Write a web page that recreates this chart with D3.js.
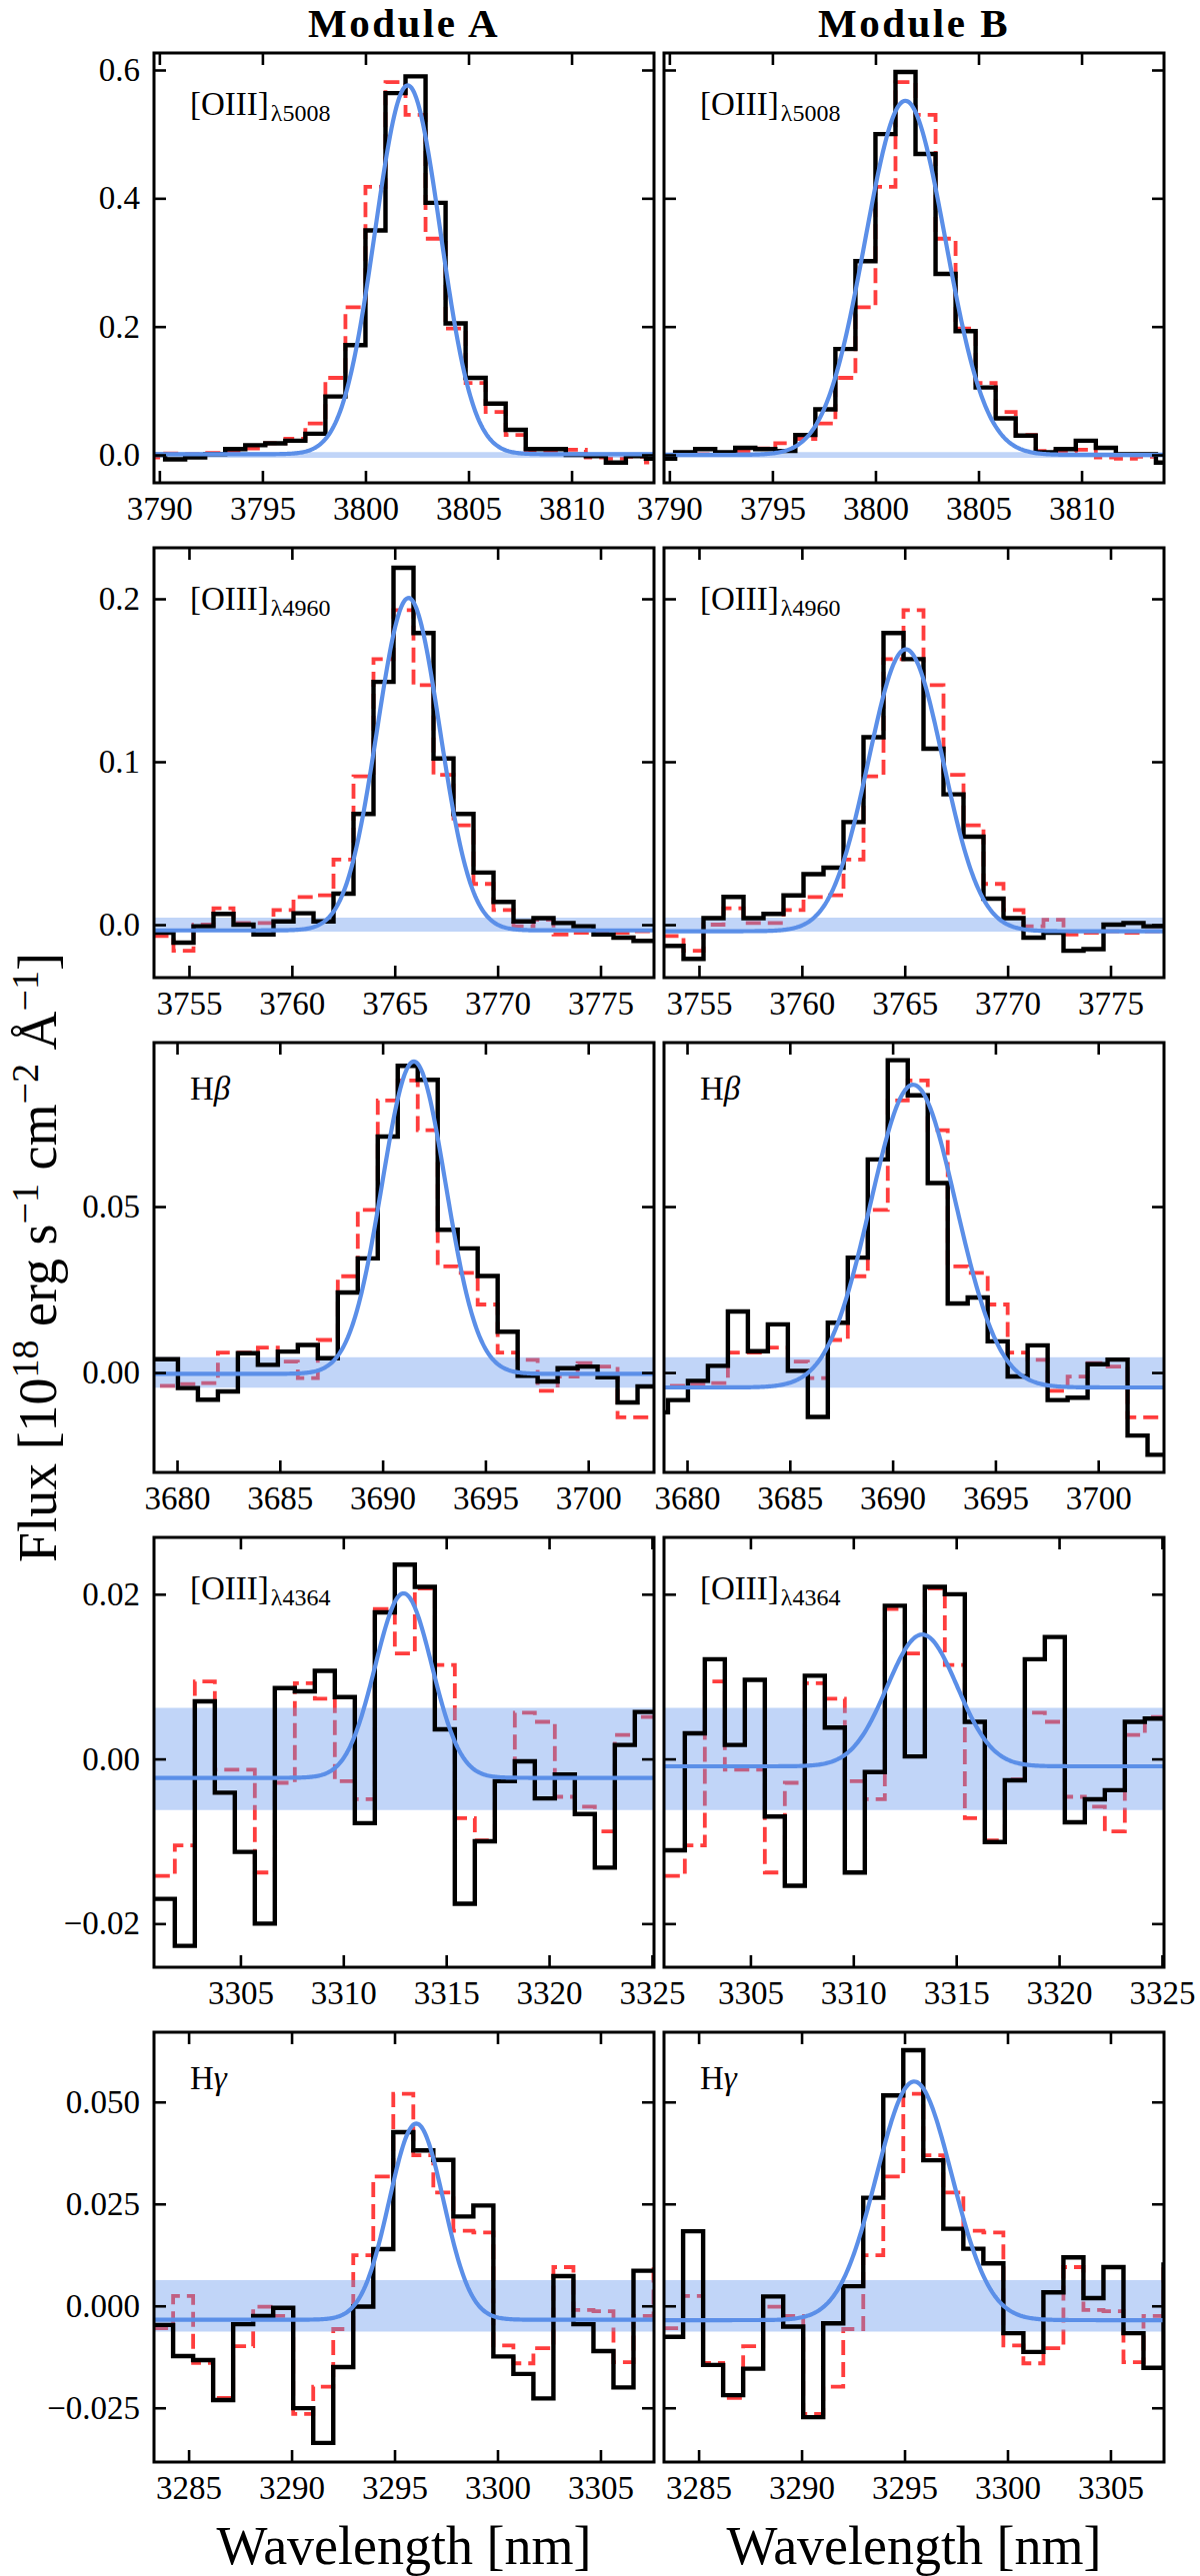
<!DOCTYPE html>
<html>
<head>
<meta charset="utf-8">
<script src="https://cdnjs.cloudflare.com/ajax/libs/d3/7.8.5/d3.min.js"></script>
<style>
body{margin:0;background:#fff;}
text{font-family:"Liberation Serif","DejaVu Serif",serif;}
</style>
</head>
<body>
<script>
//column titles and line labels
var modules = ['Module A', 'Module B'];
var lineMain = ['[OIII]', '[OIII]', 'H', '[OIII]', 'H'];
var lineSub = ['λ5008', 'λ4960', '', 'λ4364', ''];
var lineGreek = ['', '', 'β', '', 'γ'];

//axis limits and ticks per row
var xDomains = [[3789.74, 3814.0], [3753.3, 3777.6], [3678.88, 3703.2], [3300.8, 3325.1], [3283.32, 3307.6]];
var yDomains = [[-0.0436, 0.6265], [-0.0325, 0.2313], [-0.0301, 0.0994], [-0.0253, 0.0269], [-0.0383, 0.0671]];
var xTicks = [[3790, 3795, 3800, 3805, 3810], [3755, 3760, 3765, 3770, 3775], [3680, 3685, 3690, 3695, 3700],
	[3305, 3310, 3315, 3320, 3325], [3285, 3290, 3295, 3300, 3305]];
var yTicks = [[0, 0.2, 0.4, 0.6], [0, 0.1, 0.2], [0, 0.05], [-0.02, 0, 0.02], [-0.025, 0, 0.025, 0.05]];
var yFormats = ['.1f', '.1f', '.2f', '.2f', '.3f'];

//pixel grid: left edge of first bin per row, bin width in nm
var binStart = [3789.308, 3753.276, 3678.10, 3300.84, 3283.276];
var binWidth = 0.972;

//black spectra, module A
var fluxA5008 = [0.000, -0.007, -0.004, 0.001, 0.009, 0.015, 0.018, 0.022, 0.033, 0.091, 0.171, 0.350, 0.564, 0.590, 0.393, 0.205, 0.120, 0.080, 0.039, 0.009, 0.009, 0.000, -0.002, -0.012, -0.002, -0.006];
var fluxA4960 = [-0.005, -0.011, -0.001, 0.0066, 0.000, -0.006, 0.002, 0.007, 0.002, 0.019, 0.068, 0.149, 0.219, 0.179, 0.102, 0.068, 0.032, 0.014, 0.002, 0.004, 0.001, -0.001, -0.006, -0.008, -0.010];
var fluxAHb = [0.004, 0.004, -0.0047, -0.0082, -0.0057, 0.0058, 0.0023, 0.0063, 0.0083, 0.0043, 0.0241, 0.0344, 0.0711, 0.0924, 0.0882, 0.043, 0.0374, 0.0291, 0.0123, -0.001, -0.0027, 0.0013, 0.0018, -0.0014, -0.009, -0.0042];
var fluxA4364 = [-0.0170, -0.0227, 0.0070, -0.0041, -0.0113, -0.0200, 0.0086, 0.0082, 0.0107, 0.0075, -0.0078, 0.0178, 0.0236, 0.0209, 0.0036, -0.0176, -0.0100, -0.0027, -0.0003, -0.0048, -0.0019, -0.0067, -0.0132, 0.0017, 0.0057];
var fluxAHg = [-0.0047, -0.0123, -0.0133, -0.0231, -0.0045, -0.0025, -0.0005, -0.0251, -0.0336, -0.0150, -0.0002, 0.0139, 0.0426, 0.0381, 0.0358, 0.0219, 0.0246, -0.0124, -0.0167, -0.0227, 0.0073, -0.0045, -0.0111, -0.0200, 0.0086, 0.0086];

//black spectra, module B
var fluxB5008 = [-0.006, 0.004, 0.009, 0.004, 0.011, 0.009, 0.006, 0.031, 0.071, 0.165, 0.302, 0.500, 0.597, 0.469, 0.282, 0.193, 0.105, 0.057, 0.030, 0.004, 0.009, 0.022, 0.011, 0.001, 0.001, -0.012];
var fluxB4960 = [-0.013, -0.021, 0.004, 0.017, 0.004, 0.0066, 0.018, 0.031, 0.035, 0.063, 0.115, 0.179, 0.163, 0.108, 0.080, 0.054, 0.016, 0.004, -0.008, -0.005, -0.016, -0.015, 0.000, 0.001, -0.001];
var fluxBHb = [-0.012, -0.0083, -0.0025, 0.002, 0.0184, 0.0064, 0.0145, 0.0005, -0.0134, 0.015, 0.0346, 0.0642, 0.0941, 0.0835, 0.0571, 0.0208, 0.0226, 0.0094, -0.0012, 0.0082, -0.0083, -0.0076, 0.0025, 0.0039, -0.019, -0.0248];
var fluxB4364 = [-0.0111, 0.0031, 0.0121, 0.0017, 0.0096, -0.0070, -0.0154, 0.0101, 0.0038, -0.0138, -0.0016, 0.0186, 0.0003, 0.0209, 0.0200, 0.0045, -0.0101, -0.0026, 0.0121, 0.0148, -0.0077, -0.0049, -0.0038, 0.0045, 0.0049];
var fluxBHg = [-0.0076, 0.0183, -0.0145, -0.0219, -0.0154, 0.0023, -0.0051, -0.0273, -0.0043, 0.0048, 0.0265, 0.0516, 0.0627, 0.0357, 0.0189, 0.0140, 0.0104, -0.0067, -0.0113, 0.0033, 0.0119, 0.0019, 0.0095, -0.0067, -0.0152, 0.0101];

//red dashed comparison spectra (same in both columns)
var ref5008 = [-0.004, 0.002, 0.001, 0.003, 0.006, 0.010, 0.018, 0.025, 0.049, 0.120, 0.230, 0.418, 0.581, 0.530, 0.337, 0.197, 0.112, 0.067, 0.031, 0.006, 0.005, 0.008, -0.004, -0.006, -0.003, -0.012];
var ref4960 = [-0.007, -0.016, 0.000, 0.010, 0.001, 0.001, 0.009, 0.017, 0.018, 0.040, 0.091, 0.163, 0.193, 0.147, 0.092, 0.061, 0.025, 0.009, -0.001, 0.003, -0.006, -0.005, -0.004, -0.005, -0.004];
var refHb = [-0.004, -0.004, -0.0035, -0.0032, 0.006, 0.006, 0.0075, 0.0033, -0.0017, 0.0098, 0.029, 0.049, 0.082, 0.088, 0.073, 0.032, 0.030, 0.0205, 0.006, 0.0038, -0.0055, -0.0012, 0.0028, 0.0018, -0.0135, -0.0135];
var ref4364 = [-0.0142, -0.0105, 0.0094, -0.0013, -0.0013, -0.0138, -0.0029, 0.0092, 0.0073, -0.0027, -0.0049, 0.0182, 0.0128, 0.0207, 0.0114, -0.0072, -0.0099, -0.0025, 0.0056, 0.0045, -0.0046, -0.0058, -0.0088, 0.0029, 0.0051];
var refHg = [-0.0055, 0.0024, -0.0140, -0.0226, -0.0099, -0.0002, -0.0025, -0.0265, -0.0198, -0.0057, 0.0124, 0.0317, 0.0520, 0.0369, 0.0278, 0.0184, 0.0180, -0.0097, -0.0141, -0.0104, 0.0095, -0.0010, -0.0013, -0.0138, -0.0025, 0.0090];

//gaussian fits (rows: 5008, 4960, Hb, 4364, Hg)
var fitAmpA = [0.575, 0.204, 0.0941, 0.0224, 0.0481];
var fitCenA = [3802.05, 3765.67, 3691.52, 3312.93, 3296.06];
var fitSigA = [1.58, 1.52, 1.55, 1.38, 1.32];
var fitBaseA = [0.001, -0.0035, -0.0004, -0.0023, -0.0034];
var fitAmpB = [0.552, 0.173, 0.0912, 0.016, 0.0585];
var fitCenB = [3801.45, 3765.05, 3691.0, 3313.35, 3295.47];
var fitSigB = [1.95, 1.81, 2.08, 1.70, 1.83];
var fitBaseB = [0.000, -0.004, -0.0045, -0.0009, -0.0035];

//noise band half width per row
var noiseHalf = [0.0045, 0.0043, 0.0046, 0.0062, 0.0063];

var fluxA = [fluxA5008, fluxA4960, fluxAHb, fluxA4364, fluxAHg];
var fluxB = [fluxB5008, fluxB4960, fluxBHb, fluxB4364, fluxBHg];
var fluxRef = [ref5008, ref4960, refHb, ref4364, refHg];

//layout
var width = 1200, height = 2577;
var colLeft = [154, 664], panelW = 500, panelH = 430;
var rowTop = 53, rowPitch = 495;

var svg = d3.select('body').append('svg')
	.attr('width', width)
	.attr('height', height);

var defs = svg.append('defs');

function stepPoints(start, vals){
	var pts = vals.map(function(v, i){ return [start + i*binWidth, v]; });
	pts.push([start + vals.length*binWidth, vals[vals.length-1]]);
	return pts;
}

function drawPanel(r, c){
	var x0 = colLeft[c], y0 = rowTop + r*rowPitch;
	var x = d3.scaleLinear().domain(xDomains[r]).range([x0, x0 + panelW]);
	var y = d3.scaleLinear().domain(yDomains[r]).range([y0 + panelH, y0]);
	var id = 'clip' + r + c;

	defs.append('clipPath').attr('id', id)
		.append('rect')
		.attr('x', x0).attr('y', y0)
		.attr('width', panelW).attr('height', panelH);

	var g = svg.append('g').attr('clip-path', 'url(#' + id + ')');

	var step = d3.line()
		.x(function(d){ return x(d[0]); })
		.y(function(d){ return y(d[1]); })
		.curve(d3.curveStepAfter);

	//red dashed comparison
	g.append('path')
		.attr('d', step(stepPoints(binStart[r], fluxRef[r])))
		.attr('fill', 'none')
		.attr('stroke', '#ff3d3d')
		.attr('stroke-width', 3.8)
		.attr('stroke-dasharray', '15,7');

	//noise band
	var band = d3.area()
		.x(function(d){ return x(d); })
		.y0(y(-noiseHalf[r]))
		.y1(y(noiseHalf[r]));
	g.append('path')
		.attr('d', band(xDomains[r]))
		.attr('fill', 'cornflowerblue')
		.attr('fill-opacity', 0.4);

	//black spectrum
	var vals = c === 0 ? fluxA[r] : fluxB[r];
	g.append('path')
		.attr('d', step(stepPoints(binStart[r], vals)))
		.attr('fill', 'none')
		.attr('stroke', 'black')
		.attr('stroke-width', 4.4)
		.attr('stroke-linejoin', 'miter');

	//gaussian fit
	var amp = c === 0 ? fitAmpA[r] : fitAmpB[r];
	var cen = c === 0 ? fitCenA[r] : fitCenB[r];
	var sig = c === 0 ? fitSigA[r] : fitSigB[r];
	var base = c === 0 ? fitBaseA[r] : fitBaseB[r];
	var waves = d3.range(0, 401).map(function(i){
		return xDomains[r][0] + (xDomains[r][1] - xDomains[r][0])*i/400;
	});
	var fit = d3.line()
		.x(function(d){ return x(d); })
		.y(function(d){ return y(base + amp*Math.exp(-0.5*Math.pow((d - cen)/sig, 2))); });
	g.append('path')
		.attr('d', fit(waves))
		.attr('fill', 'none')
		.attr('stroke', '#5b8fe8')
		.attr('stroke-width', 4.2);

	//ticks, all pointing in
	var fmt = d3.format(yFormats[r]);
	var ax = [
		svg.append('g').attr('transform', 'translate(0,' + (y0 + panelH) + ')')
			.call(d3.axisBottom(x).tickValues(xTicks[r]).tickSizeInner(-12).tickSizeOuter(0).tickPadding(14).tickFormat(d3.format('d'))),
		svg.append('g').attr('transform', 'translate(0,' + y0 + ')')
			.call(d3.axisTop(x).tickValues(xTicks[r]).tickSizeInner(-12).tickSizeOuter(0).tickFormat('')),
		svg.append('g').attr('transform', 'translate(' + x0 + ',0)')
			.call(d3.axisLeft(y).tickValues(yTicks[r]).tickSizeInner(-12).tickSizeOuter(0).tickPadding(14)
				.tickFormat(c === 0 ? fmt : '')),
		svg.append('g').attr('transform', 'translate(' + (x0 + panelW) + ',0)')
			.call(d3.axisRight(y).tickValues(yTicks[r]).tickSizeInner(-12).tickSizeOuter(0).tickFormat(''))
	];
	ax.forEach(function(a){
		a.select('.domain').remove();
		a.selectAll('line').attr('stroke', 'black').attr('stroke-width', 2.6);
		a.attr('font-family', '"Liberation Serif", serif').attr('font-size', 33);
		a.selectAll('text').attr('fill', 'black');
	});

	//frame
	svg.append('rect')
		.attr('x', x0).attr('y', y0)
		.attr('width', panelW).attr('height', panelH)
		.attr('fill', 'none')
		.attr('stroke', 'black')
		.attr('stroke-width', 3);

	//line label
	var isH = lineMain[r] === 'H';
	var lab = svg.append('text')
		.attr('x', x0 + 36)
		.attr('y', y0 + (isH ? 57 : 62))
		.attr('font-size', 33)
		.text(lineMain[r]);
	if(lineGreek[r]){
		lab.append('tspan').attr('font-style', 'italic').text(lineGreek[r]);
	}
	if(lineSub[r]){
		lab.append('tspan')
			.attr('font-size', 24)
			.attr('dy', 6)
			.attr('dx', 2)
			.text(lineSub[r]);
	}
}

for(var r = 0; r < 5; r++){
	for(var c = 0; c < 2; c++){
		drawPanel(r, c);
	}
}

//column titles and x labels
modules.forEach(function(m, c){
	svg.append('text')
		.attr('x', colLeft[c] + panelW/2)
		.attr('y', 37)
		.attr('text-anchor', 'middle')
		.attr('font-size', 41)
		.attr('font-weight', 'bold')
		.attr('letter-spacing', 2.5)
		.text(m);
	svg.append('text')
		.attr('x', colLeft[c] + panelW/2)
		.attr('y', 2565)
		.attr('text-anchor', 'middle')
		.attr('font-size', 54)
		.text('Wavelength [nm]');
});

//y label
var yl = svg.append('text')
	.attr('transform', 'translate(56,' + (rowTop + (4*rowPitch + panelH)/2) + ') rotate(-90)')
	.attr('text-anchor', 'middle')
	.attr('font-size', 54);
yl.append('tspan').text('Flux [10');
yl.append('tspan').attr('font-size', 38).attr('dy', -18).text('18');
yl.append('tspan').attr('dy', 18).text(' erg s');
yl.append('tspan').attr('font-size', 38).attr('dy', -18).text('−1');
yl.append('tspan').attr('dy', 18).text(' cm');
yl.append('tspan').attr('font-size', 38).attr('dy', -18).text('−2');
yl.append('tspan').attr('dy', 18).text(' Å');
yl.append('tspan').attr('font-size', 38).attr('dy', -18).text('−1');
yl.append('tspan').attr('dy', 18).text(']');
</script>
</body>
</html>
